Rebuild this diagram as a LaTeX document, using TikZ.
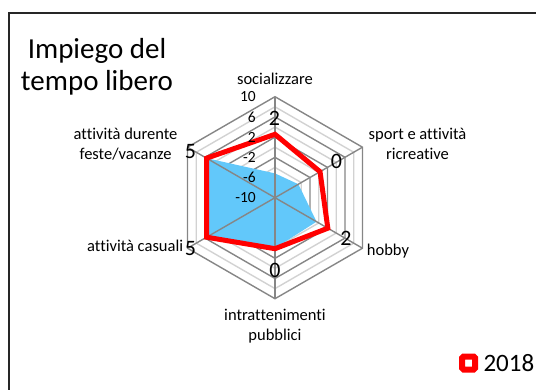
\documentclass[tikz,border=0pt]{standalone}
\usepackage{fontspec}
\setmainfont{Carlito}[Ligatures=NoCommon]
\usepackage{tikz}
\definecolor{gridmajor}{RGB}{134,134,134}
\definecolor{gridminor}{RGB}{210,210,210}
\definecolor{skyfill}{RGB}{98,200,250}
\tikzset{
  catlabel/.style={font=\fontsize{16.5}{20}\selectfont,align=center,inner sep=0pt},
  ticklabel/.style={font=\fontsize{15.5}{18}\selectfont,anchor=east,inner sep=0pt},
  vallabel/.style={font=\fontsize{22}{26}\selectfont,inner sep=0pt},
  ring/.style={line width=1.4pt}
}

\begin{document}
\begin{tikzpicture}[x=1pt,y=1pt]
      \useasboundingbox (-275,-191.3) rectangle (261,197.7);
      \draw[line width=2pt,black!85] (-266,184.7) rectangle (280,-200);
      \node[font=\fontsize{29}{32.3}\selectfont,align=center,inner sep=0pt] (title) at (-178,130.7) {Impiego del\\tempo libero};
      % rings, every 2 units
      \foreach \v/\c in {-8/gridminor,-6/gridmajor,-4/gridminor,-2/gridmajor,0/gridminor,2/gridmajor,4/gridminor,6/gridmajor,8/gridminor,10/gridmajor}{
        \pgfmathsetmacro{\r}{(\v+10)*5.05}
        \draw[ring,\c] (90:\r) -- (30:\r) -- (-30:\r) -- (-90:\r) -- (-150:\r) -- (150:\r) -- cycle;
      }
      \fill[skyfill] (90:24.3) -- (30:27) -- (-30:48) -- (-90:50.5) -- (210:79) -- (150:79) -- cycle;
      \foreach \a in {90,30,...,-210} \draw[ring,gridmajor] (0,0) -- (\a:101);
      \coordinate (soc) at (90:63.4);
      \coordinate (spo) at (30:52);
      \coordinate (hob) at (-30:61);
      \coordinate (int) at (-90:51);
      \coordinate (cas) at (210:79);
      \coordinate (fes) at (150:79);
      \draw[red,line width=5pt] (soc) -- (spo) -- (hob) -- (int) -- (cas) -- (fes) -- cycle;
      \foreach \v [count=\i] in {10,6,2,-2,-6,-10} \node[ticklabel] (tick\i) at (-19,{(\v+10)*5.05}) {\v};
      \node[catlabel] (socializzare) at (0,118.7) {socializzare};
      \node[catlabel] (sport) at (142.5,53.7) {sport e attività\\ricreative};
      \node[catlabel,anchor=west] (hobby) at (91.7,-53.3) {hobby};
      \node[catlabel] (intrattenimenti) at (0,-128.3) {intrattenimenti\\pubblici};
      \node[catlabel,anchor=east] (casuali) at (-91.7,-48.3) {attività casuali};
      \node[catlabel] (feste) at (-149.4,53.7) {attività durente\\feste/vacanze};
      \node[vallabel] (valsoc) at (-0.5,79) {2};
      \node[vallabel] (valspo) at (61.5,36) {0};
      \node[vallabel] (valhob) at (71,-40.3) {2};
      \node[vallabel] (valint) at (0,-72.3) {0};
      \node[vallabel] (valcas) at (-84.5,-51.3) {5};
      \node[vallabel] (valfes) at (-84.5,45.7) {5};
      \node[draw=red,line width=6pt,minimum size=13pt,inner sep=0pt,rounded corners=1.5pt] (legmark) at (193.7,-165.3) {};
      \node[font=\fontsize{25}{28}\selectfont,anchor=west,inner sep=0pt] (legtext) at (208.3,-165.6) {2018};
    \end{tikzpicture}
\end{document}
